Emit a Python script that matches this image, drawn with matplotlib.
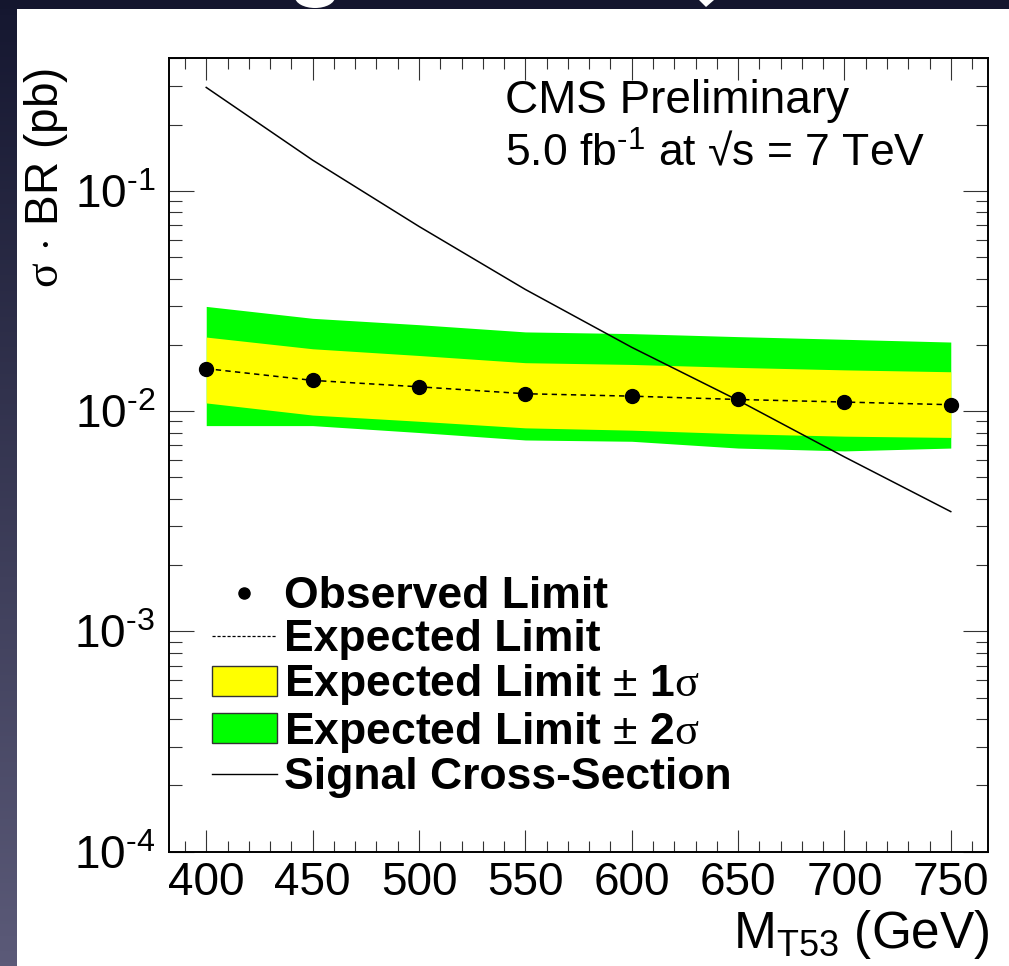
import numpy as np
import matplotlib
matplotlib.use("Agg")
import matplotlib.pyplot as plt
from matplotlib.lines import Line2D
from matplotlib.patches import Patch, Ellipse, Polygon
from matplotlib.ticker import FixedLocator, FixedFormatter, MultipleLocator, LogLocator, NullFormatter

plt.rcParams['font.family'] = ['Liberation Sans', 'DejaVu Sans']
plt.rcParams['mathtext.fontset'] = 'custom'
plt.rcParams['mathtext.rm'] = 'Liberation Sans'
plt.rcParams['mathtext.it'] = 'Liberation Sans:italic'
plt.rcParams['mathtext.bf'] = 'Liberation Sans:bold'
plt.rcParams['mathtext.sf'] = 'Liberation Serif'

# ---------------- data ----------------
mass = [400, 450, 500, 550, 600, 650, 700, 750]
observed = [0.0156, 0.0138, 0.0129, 0.0120, 0.0117, 0.0113, 0.0110, 0.0107]
expected = [0.0156, 0.0138, 0.0129, 0.0120, 0.0117, 0.0113, 0.0110, 0.0107]
exp_1s_up = [0.0217, 0.0192, 0.0179, 0.0166, 0.0163, 0.0158, 0.0154, 0.0151]
exp_1s_dn = [0.0109, 0.0096, 0.0090, 0.0084, 0.0082, 0.0079, 0.0077, 0.0076]
exp_2s_up = [0.0299, 0.0264, 0.0247, 0.0229, 0.0225, 0.0218, 0.0212, 0.0206]
exp_2s_dn = [0.0086, 0.0086, 0.0080, 0.0074, 0.0073, 0.0068, 0.0066, 0.0068]
signal = [0.295, 0.138, 0.069, 0.0357, 0.0195, 0.0112, 0.0062, 0.0035]

x_ticks = [400, 450, 500, 550, 600, 650, 700, 750]
y_ticks = [1e-4, 1e-3, 1e-2, 1e-1]
y_tick_labels = ['$\\mathregular{10^{\u2010' + e + '}}$' for e in ['4', '3', '2', '1']]
legend_labels = ['Observed Limit', 'Expected Limit',
                 r'Expected Limit $\pm$ 1$\mathsf{\sigma}$',
                 r'Expected Limit $\pm$ 2$\mathsf{\sigma}$',
                 'Signal Cross-Section']

W, H = 1009, 966
fig = plt.figure(figsize=(W / 100, H / 100), dpi=100)
fig.patch.set_facecolor('white')

# ---------------- slide background strips ----------------
ax_left = fig.add_axes([0, 0, 17 / W, 1])
grad = np.linspace(0, 1, 256)[:, None]
c_top = np.array([0x15, 0x17, 0x30]) / 255
c_bot = np.array([0x5b, 0x5a, 0x78]) / 255
img = c_top[None, None, :] * (1 - grad[..., None]) + c_bot[None, None, :] * grad[..., None]
ax_left.imshow(img, aspect='auto', extent=[0, 1, 0, 1], origin='upper')
ax_left.set_axis_off()

ax_top = fig.add_axes([0, 1 - 9 / H, 1, 9 / H])
ax_top.set_xlim(0, W)
ax_top.set_ylim(9, 0)
ax_top.set_facecolor('#14162e')
ax_top.add_patch(Ellipse((315, -3), 40, 22, facecolor='white', edgecolor='none'))
ax_top.add_patch(Polygon([(699, 0), (714, 0), (706, 7)], facecolor='white', edgecolor='none'))
for s in ax_top.spines.values():
    s.set_visible(False)
ax_top.set_xticks([])
ax_top.set_yticks([])

# ---------------- main axes ----------------
ax = fig.add_axes([169 / W, 1 - 851.7 / H, (988 - 169) / W, (851.7 - 58.3) / H])
ax.set_yscale('log')
ax.set_xlim(382.5, 767.5)
ax.set_ylim(1e-4, 0.4)

ax.fill_between(mass, exp_2s_dn, exp_2s_up, color='#00ff00', linewidth=0, zorder=1)
ax.fill_between(mass, exp_1s_dn, exp_1s_up, color='#ffff00', linewidth=0, zorder=2)
ax.plot(mass, expected, color='black', linestyle=(0, (3.5, 2.8)), linewidth=1.1, zorder=3)
ax.plot(mass, observed, linestyle='none', marker='o', markersize=10,
        color='black', zorder=4)
ax.plot(mass, signal, color='black', linewidth=1.1, zorder=5)

# ticks
ax.xaxis.set_major_locator(FixedLocator(x_ticks))
ax.xaxis.set_minor_locator(MultipleLocator(10))
ax.yaxis.set_major_locator(FixedLocator(y_ticks))
ax.yaxis.set_major_formatter(FixedFormatter(y_tick_labels))
ax.yaxis.set_minor_locator(LogLocator(base=10, subs=np.arange(2, 10)))
ax.yaxis.set_minor_formatter(NullFormatter())
ax.tick_params(axis='both', which='both', direction='in', top=True, right=True,
               color='#333333', width=0.8)
ax.tick_params(axis='x', which='major', length=16, labelsize=33, pad=7)
ax.tick_params(axis='x', which='minor', length=8)
ax.tick_params(axis='y', which='major', length=18, labelsize=33, pad=10)
ax.tick_params(axis='y', which='minor', length=9)
for s in ax.spines.values():
    s.set_linewidth(1.4)
    s.set_color('black')

# text
fig.text(505 / W, 1 - 113 / H, 'CMS Preliminary', fontsize=33, ha='left', va='baseline')
fig.text(505 / W, 1 - 166 / H,
         '5.0 fb$^{\\mathregular{\u20101}}$ at \u221as = 7 TeV',
         fontsize=32, ha='left', va='baseline')

fig.text(46 / W, 1 - 68 / H, r'$\mathsf{\sigma}$ $\cdot$ BR (pb)', rotation=90,
         fontsize=33, ha='center', va='top')
fig.text(990 / W, 1 - 948 / H, r'M$_{\mathregular{T53}}$ (GeV)', fontsize=37,
         ha='right', va='baseline')

# legend
handles = [
    Line2D([], [], linestyle='none', marker='o', markersize=8, color='black'),
    Line2D([], [], color='black', linestyle=(0, (2.5, 1.5)), linewidth=0.9),
    Patch(facecolor='#ffff00', edgecolor='#333333', linewidth=1.0),
    Patch(facecolor='#00ff00', edgecolor='#333333', linewidth=1.0),
    Line2D([], [], color='black', linewidth=1.0),
]
leg = fig.legend(handles, legend_labels, loc='upper left',
                 bbox_to_anchor=(212 / W, 1 - 576 / H),
                 frameon=False, borderpad=0, borderaxespad=0,
                 prop={'size': 32, 'weight': 'bold'},
                 handlelength=1.46, handleheight=0.67, handletextpad=0.17,
                 labelspacing=0.05)

fig.savefig('out.png', dpi=100)
